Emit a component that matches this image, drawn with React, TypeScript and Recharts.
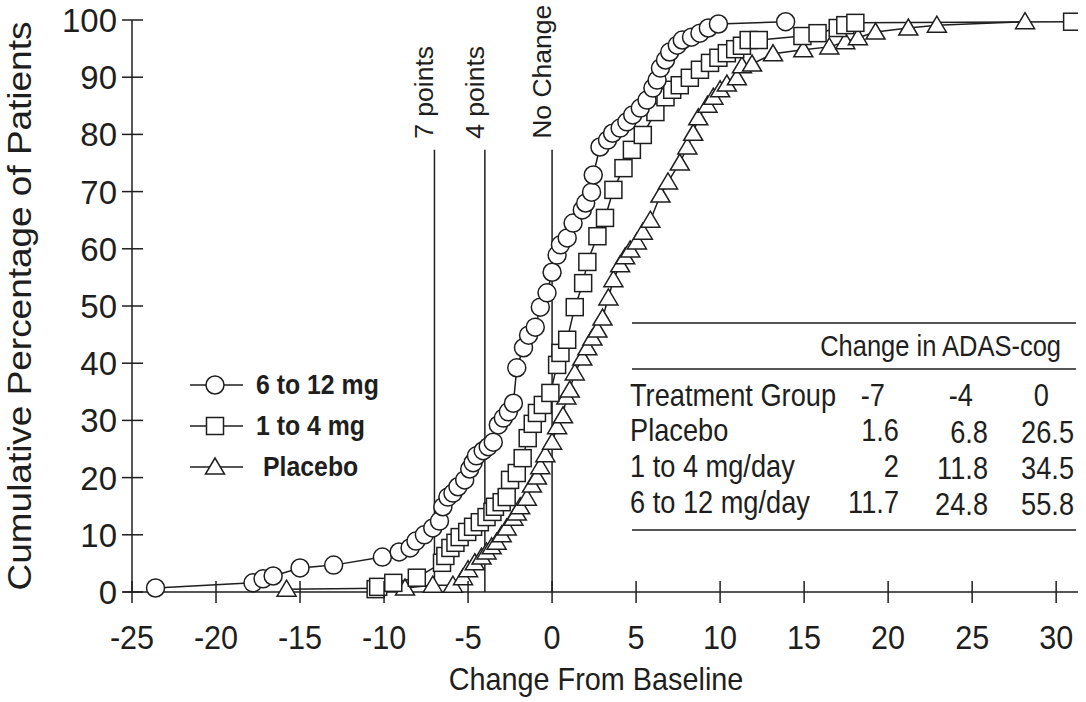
import React from "react";
import { LineChart, Line, XAxis, YAxis, ReferenceLine } from "recharts";

// cumulative distribution of change from baseline
const highDoseX = [
  -23.6, -17.8, -17.2, -16.6, -15.0, -13.0, -10.1, -9.1, -8.45, -8.1, -7.6, -7.1, -6.7,
  -6.5, -6.2, -5.9, -5.6, -5.2, -4.9, -4.7, -4.5, -4.1, -3.8, -3.5, -3.2, -2.9, -2.6,
  -2.3, -2.1, -1.7, -1.4, -1.0, -0.7, -0.3, 0.0, 0.3, 0.5, 0.9, 1.25, 1.8, 2.0, 2.35,
  2.45, 2.85, 3.3, 3.6, 4.05, 4.45, 4.8, 5.25, 5.65, 6.0, 6.25, 6.45, 6.75, 7.0, 7.45,
  7.75, 8.3, 8.8, 9.3, 9.9, 13.9,
];
const highDoseY = [
  0.7, 1.6, 2.3, 2.8, 4.2, 4.7, 6.1, 7.0, 7.7, 8.9, 10.0, 11.2, 12.4,
  14.9, 16.6, 17.3, 18.4, 19.6, 21.5, 22.6, 23.8, 24.7, 25.4, 26.2, 29.2, 30.4, 31.5,
  33.0, 39.2, 42.7, 44.9, 46.3, 49.8, 52.3, 55.9, 58.9, 60.7, 61.9, 64.5, 66.8, 68.0, 69.9,
  72.9, 77.8, 79.0, 80.2, 81.1, 82.2, 83.4, 84.6, 86.0, 88.1, 89.5, 91.6, 93.0, 94.4, 95.6,
  96.5, 97.0, 97.7, 98.6, 99.3, 99.7,
];

const lowDoseX = [
  -10.5, -10.35, -9.45, -8.05, -6.55, -6.35, -6.05, -5.75, -5.5, -5.05, -4.7, -4.3, -3.9,
  -3.55, -3.4, -3.0, -2.7, -2.5, -2.1, -1.75, -1.45, -1.15, -0.9, -0.55, -0.1, 0.3, 0.5,
  0.9, 1.35, 1.85, 2.1, 2.7, 3.15, 3.65, 4.25, 4.75, 5.4, 6.15, 6.75, 7.15, 7.6, 8.2,
  8.8, 9.4, 9.9, 10.4, 10.9, 11.3, 11.7, 12.3, 14.9, 15.8, 17.0, 17.45, 18.05, 30.95,
];
const lowDoseY = [
  0.5, 0.9, 1.6, 2.5, 5.1, 6.3, 7.7, 8.6, 9.6, 10.5, 11.4, 12.2, 13.1,
  14.0, 14.9, 15.7, 16.6, 19.6, 20.8, 23.4, 26.9, 29.4, 31.3, 32.7, 34.8, 39.7, 41.8,
  44.1, 49.8, 54.0, 57.7, 62.2, 65.4, 70.3, 74.1, 77.3, 79.9, 83.9, 86.5, 87.8, 88.6, 89.9,
  91.3, 92.5, 93.4, 94.2, 94.9, 95.5, 96.5, 96.5, 97.2, 97.7, 98.6, 99.1, 99.5, 99.7,
];

const placeboX = [
  -15.8, -8.75, -7.1, -5.9, -5.3, -5.0, -4.6, -4.2, -3.9, -3.6, -3.3, -3.0, -2.7, -2.3,
  -2.1, -1.9, -1.5, -1.2, -0.9, -0.7, -0.4, 0.0, 0.3, 0.65, 0.85, 1.05, 1.35, 1.8, 2.1,
  2.4, 2.7, 3.0, 3.35, 3.65, 4.05, 4.35, 4.65, 5.05, 5.4, 5.85, 6.45, 6.9, 7.6, 8.05,
  8.4, 8.7, 9.25, 9.6, 10.0, 10.4, 11.0, 11.3, 11.9, 13.15, 14.95, 16.5, 17.45, 18.2,
  19.25, 21.2, 22.9, 28.15,
];
const placeboY = [
  0.5, 0.7, 1.2, 1.2, 2.5, 3.9, 5.1, 6.1, 7.0, 7.9, 8.7, 10.0, 11.2, 12.9,
  13.8, 14.9, 16.4, 18.7, 20.1, 21.9, 24.0, 26.2, 28.9, 30.8, 34.1, 35.3, 38.3, 40.9, 42.7,
  44.4, 45.8, 47.9, 51.4, 54.6, 57.2, 58.6, 59.8, 61.2, 62.9, 65.0, 69.4, 71.7, 75.0, 77.8,
  80.2, 82.9, 85.1, 86.5, 87.8, 88.8, 89.9, 92.0, 92.3, 94.1, 94.8, 95.3, 96.2, 96.9,
  97.9, 98.6, 99.1, 99.7,
];

const xTicks = [-25, -20, -15, -10, -5, 0, 5, 10, 15, 20, 25, 30];
const yTicks = [0, 10, 20, 30, 40, 50, 60, 70, 80, 90, 100];

const cutoffs = [
  { x: -7, label: "7 points" },
  { x: -4, label: "4 points" },
  { x: 0, label: "No Change" },
];

const tableHeader = ["-7", "-4", "0"];
const tableRows = [
  { group: "Placebo", values: ["1.6", "6.8", "26.5"] },
  { group: "1 to 4 mg/day", values: ["2", "11.8", "34.5"] },
  { group: "6 to 12 mg/day", values: ["11.7", "24.8", "55.8"] },
];

const toPoints = (xs: number[], ys: number[]) => xs.map((x, i) => ({ x, y: ys[i] }));
const highDose = toPoints(highDoseX, highDoseY);
const lowDose = toPoints(lowDoseX, lowDoseY);
const placebo = toPoints(placeboX, placeboY);

const INK = "#1e1e1e";
const FONT = "'Liberation Sans', Arial, sans-serif";
const SQUEEZE = 0.85; // the original type is a condensed face

const CircleDot = (p: any) => (
  <circle key={p.index} cx={p.cx} cy={p.cy} r={9} fill="#fff" stroke={INK} strokeWidth={1.5} />
);
const SquareDot = (p: any) => (
  <rect key={p.index} x={p.cx - 8.5} y={p.cy - 8.5} width={17} height={17} fill="#fff" stroke={INK} strokeWidth={1.5} />
);
const TriangleDot = (p: any) => (
  <polygon
    key={p.index}
    points={`${p.cx},${p.cy - 9} ${p.cx - 9.5},${p.cy + 7} ${p.cx + 9.5},${p.cy + 7}`}
    fill="#fff"
    stroke={INK}
    strokeWidth={1.5}
  />
);

// condensed text: scale horizontally around the anchor point
const Squeezed = ({ x, y, anchor = "start", size, k = SQUEEZE, weight, children }: any) => (
  <text
    transform={`translate(${x} ${y}) scale(${k} 1)`}
    textAnchor={anchor}
    fontFamily={FONT}
    fontSize={size}
    fontWeight={weight}
    fill={INK}
  >
    {children}
  </text>
);

const XTick = (p: any) => (
  <g>
    <line x1={p.x} x2={p.x} y1={p.y - 11} y2={p.y + 11} stroke={INK} strokeWidth={1.5} />
    <Squeezed x={p.x} y={p.y + 57} anchor="middle" size={34} k={0.9}>
      {p.payload.value}
    </Squeezed>
  </g>
);

const YTick = (p: any) => (
  <g>
    <line x1={p.x - 10} x2={p.x + 11} y1={p.y} y2={p.y} stroke={INK} strokeWidth={1.5} />
    <Squeezed x={p.x - 15} y={p.y + 12} anchor="end" size={34} k={0.97}>
      {p.payload.value}
    </Squeezed>
  </g>
);

const XTitle = (p: any) => {
  const vb = p.viewBox;
  return (
    <Squeezed x={vb.x + vb.width / 2 - 9} y={vb.y + vb.height - 12} anchor="middle" size={31} k={0.93}>
      Change From Baseline
    </Squeezed>
  );
};

const YTitle = (p: any) => {
  const vb = p.viewBox;
  const cx = vb.x + 31;
  const cy = vb.y + vb.height / 2;
  return (
    <text
      transform={`translate(${cx} ${cy}) scale(1 1.12) rotate(-90)`}
      textAnchor="middle"
      fontFamily={FONT}
      fontSize={33}
      fill={INK}
    >
      Cumulative Percentage of Patients
    </text>
  );
};

const cutoffLabel = (text: string) => (p: any) => {
  const vb = p.viewBox;
  const ax = vb.x - 1;
  const ay = vb.y - 11;
  return (
    <text
      transform={`translate(${ax} ${ay}) scale(1 1.02) rotate(-90)`}
      textAnchor="start"
      fontFamily={FONT}
      fontSize={26}
      fill={INK}
    >
      {text}
    </text>
  );
};

const legendItems = [
  { label: "6 to 12 mg", shape: "circle", dx: 0 },
  { label: "1 to 4 mg", shape: "square", dx: 0 },
  { label: "Placebo", shape: "triangle", dx: 7 },
];

function Overlay() {
  const tableLeft = 630;
  const colRight = [899, 988, 1074];
  const headRight = [885, 973, 1049];
  return (
    <svg width={1086} height={702} style={{ position: "absolute", left: 0, top: 0, pointerEvents: "none" }}>
      {/* x axis line runs a little past the y axis, as in the original */}
      <line x1={123} x2={133} y1={592} y2={592} stroke={INK} strokeWidth={1.5} />
      {legendItems.map((item, i) => {
        const cy = 385 + i * 41;
        const cx = 215;
        return (
          <g key={item.label}>
            <line x1={190} x2={243} y1={cy} y2={cy} stroke={INK} strokeWidth={1.5} />
            {item.shape === "circle" && <circle cx={cx} cy={cy} r={9} fill="#fff" stroke={INK} strokeWidth={1.5} />}
            {item.shape === "square" && (
              <rect x={cx - 8.5} y={cy - 8.5} width={17} height={17} fill="#fff" stroke={INK} strokeWidth={1.5} />
            )}
            {item.shape === "triangle" && (
              <polygon
                points={`${cx},${cy - 9} ${cx - 9.5},${cy + 7} ${cx + 9.5},${cy + 7}`}
                fill="#fff"
                stroke={INK}
                strokeWidth={1.5}
              />
            )}
            <Squeezed x={256 + item.dx} y={cy + 9} size={27} k={0.92} weight="bold">
              {item.label}
            </Squeezed>
          </g>
        );
      })}

      <line x1={tableLeft + 2} x2={1076} y1={323} y2={323} stroke={INK} strokeWidth={1.5} />
      <Squeezed x={1061} y={356} anchor="end" size={30} k={0.85}>Change in ADAS-cog</Squeezed>
      <line x1={tableLeft + 2} x2={1076} y1={369} y2={369} stroke={INK} strokeWidth={1.5} />
      <Squeezed x={tableLeft} y={406} size={32}>Treatment Group</Squeezed>
      {tableHeader.map((h, j) => (
        <Squeezed key={h} x={headRight[j]} y={406} anchor="end" size={32}>{h}</Squeezed>
      ))}
      {tableRows.map((row, i) => (
        <g key={row.group}>
          <Squeezed x={tableLeft} y={441 + i * 36} size={32}>{row.group}</Squeezed>
          {row.values.map((v, j) => (
            <Squeezed key={j} x={colRight[j]} y={441 + i * 36 + (j === 0 ? 0 : 2)} anchor="end" size={32}>
              {v}
            </Squeezed>
          ))}
        </g>
      ))}
      <line x1={tableLeft + 2} x2={1076} y1={530} y2={530} stroke={INK} strokeWidth={1.5} />
    </svg>
  );
}

export default function App() {
  return (
    <div style={{ position: "absolute", left: 0, top: 0, width: 1086, height: 702, background: "#fff" }}>
      <LineChart width={1086} height={702} margin={{ top: 20, right: 8, bottom: 0, left: 0 }}>
        <XAxis
          type="number"
          dataKey="x"
          domain={[-25, 31.3]}
          ticks={xTicks}
          allowDataOverflow
          height={110}
          tickSize={0}
          tickMargin={0}
          tickLine={false}
          tick={<XTick />}
          axisLine={{ stroke: INK, strokeWidth: 1.5 }}
          label={<XTitle />}
        />
        <YAxis
          type="number"
          domain={[0, 100]}
          ticks={yTicks}
          width={132}
          tickSize={0}
          tickMargin={0}
          tickLine={false}
          tick={<YTick />}
          axisLine={{ stroke: INK, strokeWidth: 1.5 }}
          label={<YTitle />}
        />
        {cutoffs.map((c) => (
          <ReferenceLine
            key={c.label}
            segment={[
              { x: c.x, y: 0 },
              { x: c.x, y: 77.3 },
            ]}
            stroke={INK}
            strokeWidth={1.5}
            label={cutoffLabel(c.label)}
          />
        ))}
        <Line
          data={placebo}
          dataKey="y"
          type="linear"
          stroke={INK}
          strokeWidth={1.5}
          dot={TriangleDot}
          activeDot={false}
          isAnimationActive={false}
        />
        <Line
          data={lowDose}
          dataKey="y"
          type="linear"
          stroke={INK}
          strokeWidth={1.5}
          dot={SquareDot}
          activeDot={false}
          isAnimationActive={false}
        />
        <Line
          data={highDose}
          dataKey="y"
          type="linear"
          stroke={INK}
          strokeWidth={1.5}
          dot={CircleDot}
          activeDot={false}
          isAnimationActive={false}
        />
      </LineChart>
      <Overlay />
    </div>
  );
}
